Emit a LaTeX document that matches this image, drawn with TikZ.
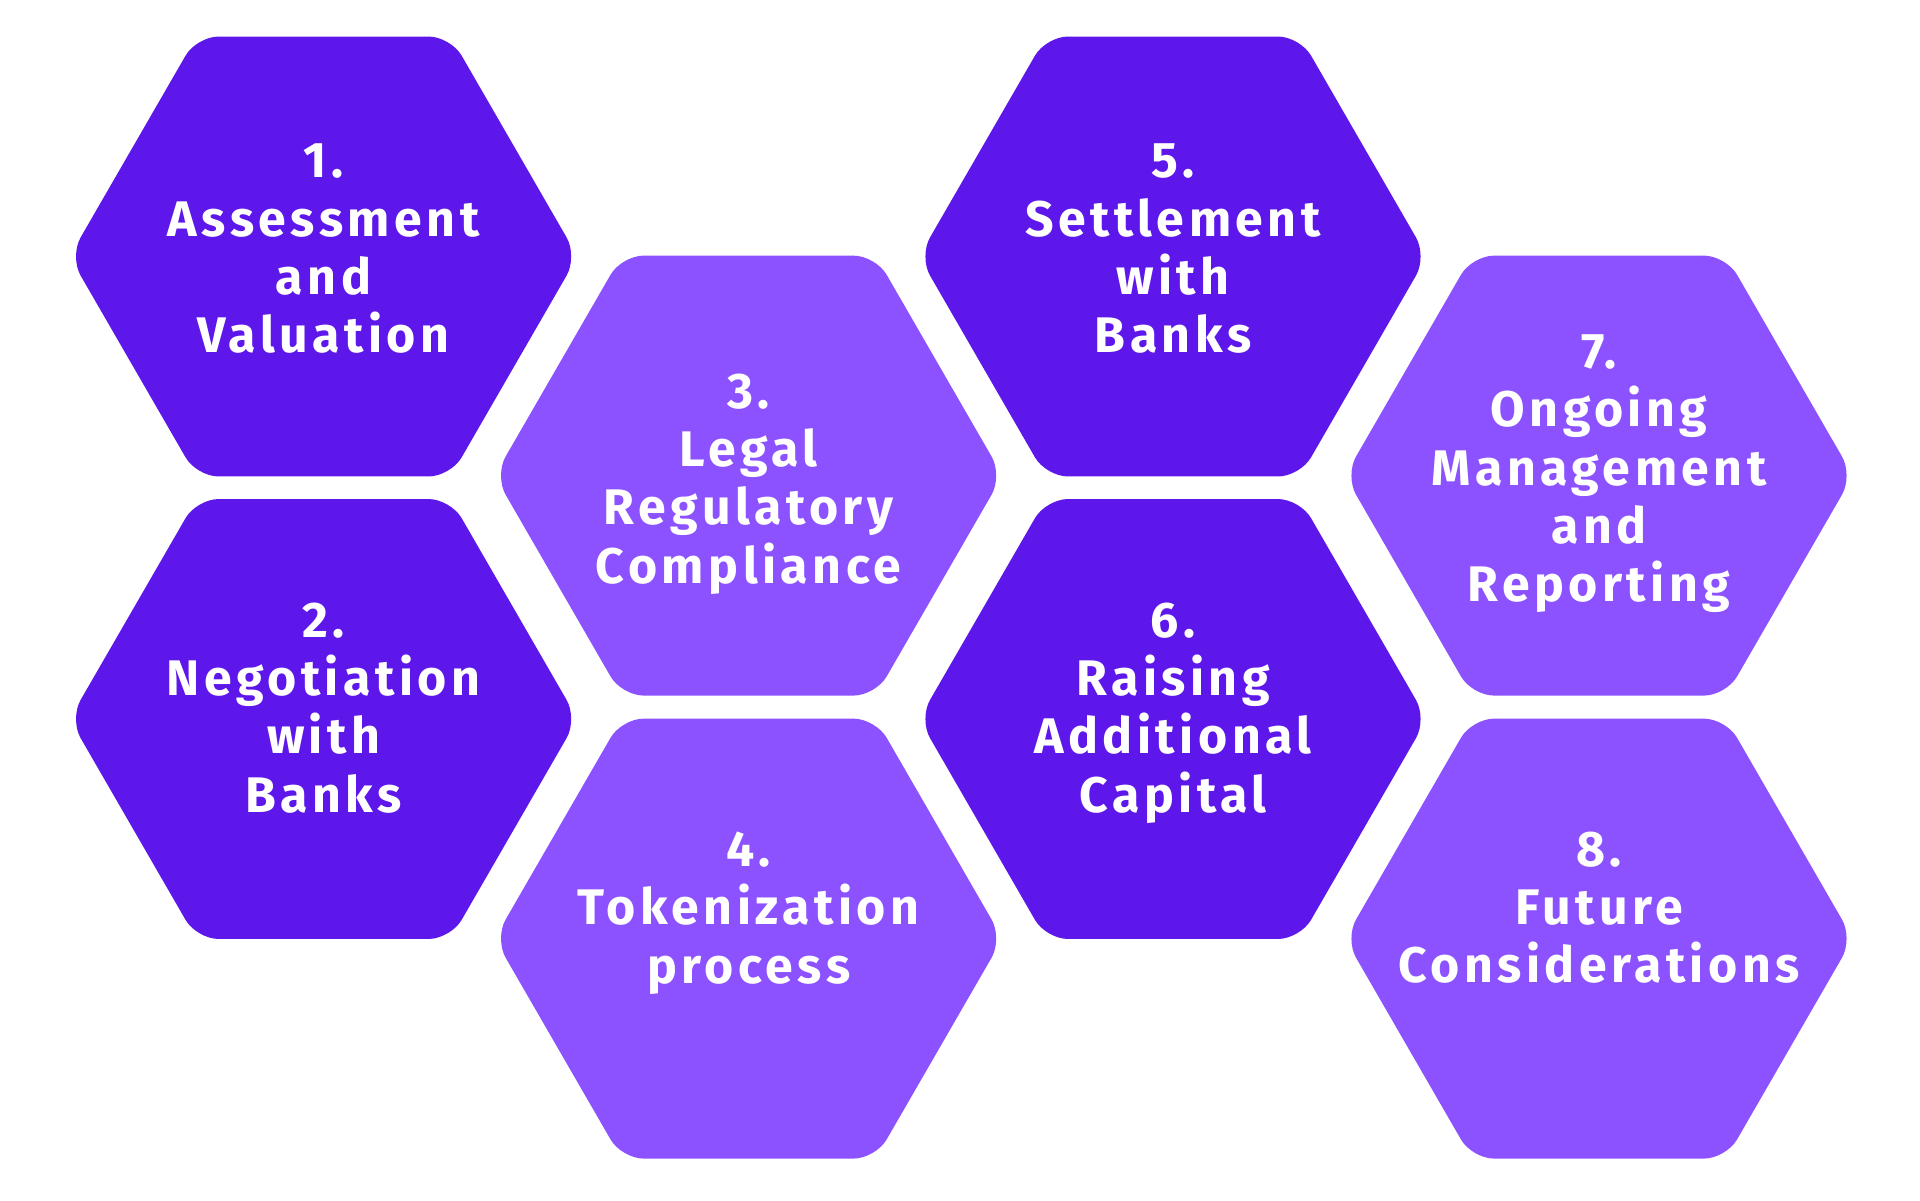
\documentclass[tikz,border=0pt]{standalone}
\usepackage{fontspec}
\setmainfont{Fira Sans}[LetterSpace=9]
\usetikzlibrary{shapes.geometric}
\definecolor{hexdark}{HTML}{5E17EB}
\definecolor{hexlight}{HTML}{8C52FF}
\begin{document}
\begin{tikzpicture}[x=1pt,y=-1pt,
  hexa/.style={regular polygon, regular polygon sides=6, minimum size=508pt,
    inner sep=0pt, draw=none, rounded corners=22pt},
  dark/.style={hexa, fill=hexdark},
  light/.style={hexa, fill=hexlight},
  txt/.style={anchor=north, inner sep=0pt, align=center, text=white,
    font=\fontsize{50}{58.3}\selectfont\bfseries}]
\fill[white] (0,0) rectangle (1920,1200);
\useasboundingbox (0,0) rectangle (1920,1200);
\node[dark]  (h1) at (323.6,256.5) {};
\node[dark]  (h2) at (323.6,719) {};
\node[light] (h3) at (748.6,475.6) {};
\node[light] (h4) at (748.6,938.6) {};
\node[dark]  (h5) at (1173,256.5) {};
\node[dark]  (h6) at (1173,719) {};
\node[light] (h7) at (1599,475.6) {};
\node[light] (h8) at (1599,938.6) {};
\newcommand\firstline{\rule{0pt}{40pt}}
\node[txt] (t1) at (323.6,137.5) {\firstline 1.\\Assessment\\and\\Valuation};
\node[txt] (t2) at (323.6,597) {\firstline 2.\\Negotiation\\with\\Banks};
\node[txt] (t3) at (748.6,368) {\firstline 3.\\Legal\\Regulatory\\Compliance};
\node[txt] (t4) at (748.6,826.3) {\firstline 4.\\Tokenization\\process};
\node[txt] (t5) at (1173,137.5) {\firstline 5.\\Settlement\\with\\Banks};
\node[txt] (t6) at (1173,597) {\firstline 6.\\Raising\\Additional\\Capital};
\node[txt] (t7) at (1599,328.3) {\firstline 7.\\Ongoing\\Management\\and\\Reporting};
\node[txt] (t8) at (1599,826) {\firstline 8.\\Future\\Considerations};
\end{tikzpicture}
\end{document}
